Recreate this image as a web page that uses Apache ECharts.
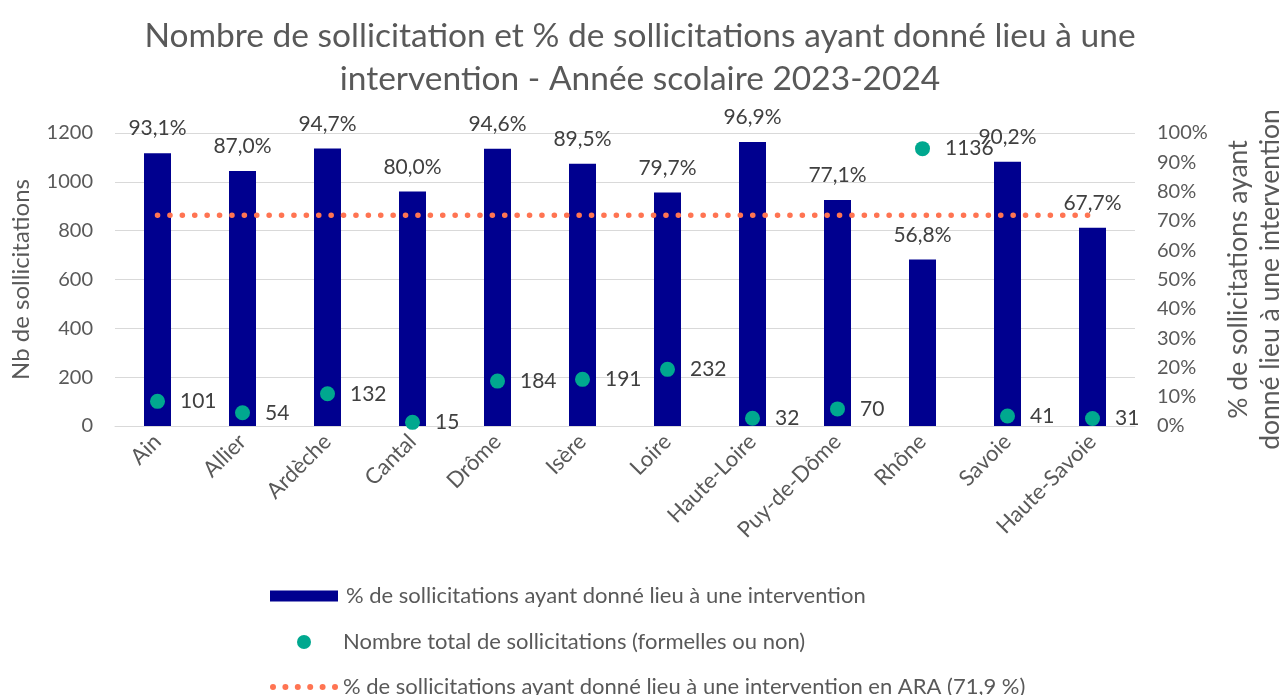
<!DOCTYPE html>
<html lang="fr">
<head>
    <meta charset="UTF-8">
    <title>Sollicitations 2023-2024</title>
    <script src="https://cdn.jsdelivr.net/npm/echarts@6/dist/echarts.min.js"></script>
    <style>
        html, body { margin: 0; padding: 0; background: #fff; }
        #main { width: 1280px; height: 695px; }
    </style>
</head>
<body>
<div id="main"></div>
<script type="text/javascript">
    // départements
    var departements = ['Ain', 'Allier', 'Ardèche', 'Cantal', 'Drôme', 'Isère', 'Loire',
        'Haute-Loire', 'Puy-de-Dôme', 'Rhône', 'Savoie', 'Haute-Savoie'];
    // % de sollicitations ayant donné lieu à une intervention
    var pctIntervention = [93.1, 87.0, 94.7, 80.0, 94.6, 89.5, 79.7, 96.9, 77.1, 56.8, 90.2, 67.7];
    // nombre total de sollicitations
    var nbSollicitations = [101, 54, 132, 15, 184, 191, 232, 32, 70, 1136, 41, 31];
    // moyenne ARA (71,9 %)
    var pctARA = [71.9, 71.9, 71.9, 71.9, 71.9, 71.9, 71.9, 71.9, 71.9, 71.9, 71.9, 71.9];

    var nomBarres = '% de sollicitations ayant donné lieu à une intervention';
    var nomPoints = 'Nombre total de sollicitations (formelles ou non)';
    var nomLigne = '% de sollicitations ayant donné lieu à une intervention en ARA (71,9 %)';

    var police = 'Lato, "Liberation Sans", sans-serif';
    var gris = '#595959';
    var orange = '#FF7452';
    var vert = '#00A88F';

    // icônes de légende (boîte 68 x 14)
    var iconeRond = 'path://M0,0M68,14M27,7a7,7 0 1,0 14,0a7,7 0 1,0 -14,0Z';
    var iconePoints = 'path://M0,0M68,14';
    for (var k = 0; k < 6; k++) {
        var cx = 12.4 * k;
        iconePoints += 'M' + cx + ',7a3,3 0 1,0 6,0a3,3 0 1,0 -6,0Z';
    }

    var myChart = echarts.init(document.getElementById('main'));

    var legendeBase = {
        orient: 'vertical',
        left: 265,
        itemWidth: 68,
        itemHeight: 14,
        textStyle: { fontFamily: police, fontSize: 22, color: gris }
    };

    var option = {
        backgroundColor: '#fff',
        textStyle: { fontFamily: police },
        title: {
            text: 'Nombre de sollicitation et % de sollicitations ayant donné lieu à une\nintervention - Année scolaire 2023-2024',
            left: 'center',
            top: 10,
            textStyle: { fontFamily: police, fontSize: 33.5, fontWeight: 'normal', color: gris, lineHeight: 43 }
        },
        legend: [
            Object.assign({}, legendeBase, { top: 580, itemHeight: 11, data: [{ name: nomBarres, icon: 'rect' }],
                textStyle: { fontFamily: police, fontSize: 22, color: gris, padding: [0, 0, 0, 3] } }),
            Object.assign({}, legendeBase, { top: 626, data: [{ name: nomPoints, icon: iconeRond, itemStyle: { color: vert } }] }),
            Object.assign({}, legendeBase, { top: 671,
                data: [{ name: nomLigne, icon: iconePoints, itemStyle: { color: orange } }] })
        ],
        grid: { left: 115, right: 145, top: 133, bottom: 269, outerBoundsMode: 'none' },
        xAxis: {
            type: 'category',
            data: departements,
            axisLine: { lineStyle: { color: '#D9D9D9', width: 1 } },
            axisTick: { show: false },
            axisLabel: { rotate: 45, fontSize: 22, color: gris, margin: 12, fontFamily: police }
        },
        yAxis: [
            {
                type: 'value',
                min: 0, max: 1200, interval: 200,
                name: 'Nb de sollicitations',
                nameLocation: 'middle',
                nameGap: 79,
                nameTextStyle: { fontSize: 24, color: gris, fontFamily: police, lineHeight: 28 },
                axisLine: { show: false },
                axisTick: { show: false },
                axisLabel: {
                    fontSize: 20, color: gris, margin: 22, fontFamily: police,
                    formatter: function (v) { return String(v); }
                },
                splitLine: { lineStyle: { color: '#D9D9D9', width: 1 } }
            },
            {
                type: 'value',
                min: 0, max: 100, interval: 10,
                position: 'right',
                name: '% de sollicitations ayant\ndonné lieu à une intervention',
                nameLocation: 'middle',
                nameRotate: 90,
                nameGap: 87,
                nameTextStyle: { fontSize: 26.5, color: gris, fontFamily: police, lineHeight: 32 },
                axisLine: { show: false },
                axisTick: { show: false },
                splitLine: { show: false },
                axisLabel: { fontSize: 20, color: gris, margin: 22, fontFamily: police, formatter: '{value}%' }
            }
        ],
        series: [
            {
                name: nomBarres,
                type: 'bar',
                yAxisIndex: 1,
                data: pctIntervention,
                barWidth: 27,
                itemStyle: { color: '#00008F' },
                label: {
                    show: true,
                    position: 'top',
                    distance: 14,
                    fontSize: 21,
                    color: '#404040',
                    fontFamily: police,
                    formatter: function (p) { return p.value.toFixed(1).replace('.', ',') + '%'; }
                },
                z: 1
            },
            {
                name: nomLigne,
                type: 'line',
                yAxisIndex: 1,
                data: pctARA,
                symbol: 'none',
                lineStyle: { color: orange, width: 5.5, type: [0.1, 12.3], cap: 'round' },
                itemStyle: { color: orange },
                z: 3
            },
            {
                name: nomPoints,
                type: 'scatter',
                yAxisIndex: 0,
                data: nbSollicitations,
                symbolSize: 15,
                itemStyle: { color: vert, opacity: 1 },
                label: {
                    show: true,
                    position: 'right',
                    distance: 15,
                    fontSize: 21,
                    color: '#404040',
                    fontFamily: police
                },
                z: 4
            }
        ]
    };

    myChart.setOption(option);
</script>
</body>
</html>
